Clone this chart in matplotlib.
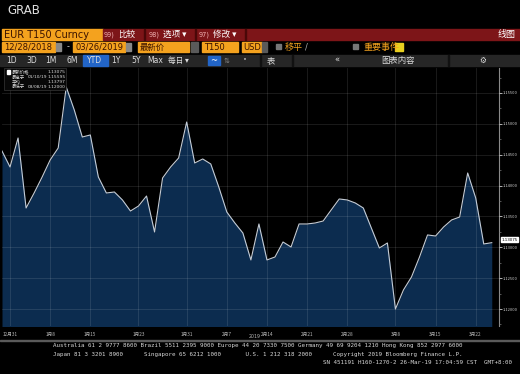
import matplotlib.pyplot as plt
from matplotlib.patches import Rectangle
from matplotlib.ticker import MultipleLocator, FormatStrFormatter

plt.rcParams['font.family'] = ['Noto Sans CJK SC', 'DejaVu Sans']

# EUR T150 daily closes, 12/28/2018 -> 03/26/2019
values = [1.14560, 1.14301, 1.14771, 1.13637, 1.13880, 1.14139, 1.14415, 1.14609,
          1.15597, 1.15225, 1.14787, 1.14820, 1.14139, 1.13880, 1.13896, 1.13767,
          1.13588, 1.13669, 1.13831, 1.13248, 1.14123, 1.14301, 1.14447, 1.15030,
          1.14366, 1.14431, 1.14350, 1.13977, 1.13572, 1.13394, 1.13232, 1.12795,
          1.13378, 1.12795, 1.12843, 1.13086, 1.13005, 1.13378, 1.13378, 1.13394,
          1.13426, 1.13605, 1.13783, 1.13767, 1.13718, 1.13637, 1.13313, 1.12989,
          1.13070, 1.12000, 1.12309, 1.12519, 1.12843, 1.13200, 1.13183, 1.13329,
          1.13443, 1.13491, 1.14204, 1.13799, 1.13054, 1.13075]
tick_idx = [1, 6, 11, 17, 23, 28, 33, 38, 43, 49, 54, 59]
tick_labels = ['12月31', '1月8', '1月15', '1月23', '1月31', '2月7',
               '2月14', '2月21', '2月28', '3月8', '3月15', '3月22']
legend_rows = [('最新价格', '', '1.13075'), ('最高于', '01/10/19', '1.15595'),
               ('平均', '', '1.13797'), ('最低于', '03/08/19', '1.12000')]
menu_x = [104, 149, 199]
menu_num = ['99', '98', '97']
menu_lab = ['比较', '选项 ▾', '修改 ▾']

W, H = 520, 374
fig = plt.figure(figsize=(W / 100, H / 100), dpi=100, facecolor='black')

ORANGE = '#f4a21e'
DARKRED = '#7d1518'
INK = '#3a1200'


def box(x, y, w, h, color, **kw):
    fig.patches.append(Rectangle((x / W, 1 - (y + h) / H), w / W, h / H,
                                 transform=fig.transFigure, color=color, **kw))


def txt(x, y, s, **kw):
    kw.setdefault('va', 'center')
    kw.setdefault('color', '#e8e8e8')
    kw.setdefault('fontsize', 6)
    return fig.text(x / W, 1 - y / H, s, **kw)


# header
txt(7, 10, 'GRAB', fontsize=8.5, family='DejaVu Sans', color='#e0e0e0')

# row 1: security + red menu bar
box(2, 29, 101, 11, ORANGE)
txt(4, 34.5, 'EUR T150 Curncy', fontsize=7, color=INK, family='DejaVu Sans')
box(103, 29, 417, 11, DARKRED)
for x0, num, lab in zip(menu_x, menu_num, menu_lab):
    txt(x0, 34.5, num + ')', fontsize=4.8, color='#f0b0b0', family='DejaVu Sans')
    txt(x0 + 14, 34.5, lab, fontsize=6.2, color='white')
for xs in [144, 195, 245]:
    box(xs, 29, 1, 11, '#4a0808')
txt(516, 34.5, '线图', fontsize=6.5, color='white', ha='right')

# row 2: date range / field boxes
box(2, 42, 53, 10, ORANGE)
txt(4, 47, '12/28/2018', fontsize=6, color=INK, family='DejaVu Sans')
box(56, 43, 5, 8, '#888888')
txt(67, 47, '-', fontsize=6, color='#cccccc')
box(73, 42, 52, 10, ORANGE)
txt(75, 47, '03/26/2019', fontsize=6, color=INK, family='DejaVu Sans')
box(126, 43, 5, 8, '#888888')
box(138, 42, 51, 10, ORANGE)
txt(140, 47, '最新价', fontsize=6, color=INK)
box(191, 42, 7, 10, '#5a5a5a')
box(202, 42, 36, 10, ORANGE)
txt(204, 47, 'T150', fontsize=6, color=INK, family='DejaVu Sans')
box(242, 42, 20, 10, ORANGE)
txt(243, 47, 'USD', fontsize=6, color=INK, family='DejaVu Sans')
box(262, 42, 5, 10, '#5a5a5a')
box(276, 44, 5, 5, '#777777')
txt(285, 47, '移平', fontsize=6.5, color=ORANGE)
txt(305, 47, '/', fontsize=6, color='#aaaaaa', family='DejaVu Sans')
box(353, 44, 5, 5, '#777777')
txt(363, 47, '重要事件', fontsize=6.5, color=ORANGE)
box(395, 43, 8, 8, '#e8d020')

# row 3: toolbar
box(0, 55, 520, 11, '#262626')
box(83, 55, 25, 11, '#2265c8')
for x0, lab in [(12, '1D'), (32, '3D'), (51, '1M'), (72, '6M'), (95, 'YTD'),
                (116, '1Y'), (136, '5Y'), (155, 'Max')]:
    txt(x0, 60.5, lab, fontsize=5.5, color='#dddddd', ha='center', family='DejaVu Sans')
txt(178, 60.5, '每日 ▾', fontsize=5.5, color='#dddddd', ha='center')
box(208, 56, 12, 9, '#2265c8')
txt(214, 60.5, '~', fontsize=6, color='white', ha='center', family='DejaVu Sans')
txt(227, 60.5, '⇅', fontsize=5, color='#888888', ha='center', family='DejaVu Sans')
txt(245, 60.5, '•', fontsize=5, color='#aaaaaa', ha='center', family='DejaVu Sans')
txt(271, 60.5, '表', fontsize=6, color='#dddddd', ha='center')
txt(337, 60.5, '«', fontsize=6, color='#dddddd', ha='center', family='DejaVu Sans')
txt(398, 60.5, '图表内容', fontsize=6, color='#dddddd', ha='center')
txt(483, 60.5, '⚙', fontsize=5.5, color='#dddddd', ha='center', family='DejaVu Sans')
for xs in [260, 292, 448]:
    box(xs, 55, 1, 11, '#111111')

# main chart
ax = fig.add_axes([2 / W, 1 - 326 / H, 497 / W, 258 / H])
ax.set_facecolor('black')
x = list(range(len(values)))
ax.fill_between(x, values, 1.10, color='#0c2c4f', zorder=1, linewidth=0)
ax.plot(x, values, color='#c4ccd6', linewidth=0.8, zorder=3)
ax.set_xlim(0, 61.9)
ax.set_ylim(1.11725, 1.15905)
ax.yaxis.set_major_locator(MultipleLocator(0.005))
ax.yaxis.set_minor_locator(MultipleLocator(0.0025))
ax.yaxis.set_major_formatter(FormatStrFormatter('%.5f'))
ax.yaxis.tick_right()
ax.set_xticks(tick_idx)
ax.set_xticklabels(tick_labels)
ax.grid(True, which='major', color='white', alpha=0.12, linewidth=0.6, zorder=2)
ax.set_axisbelow(False)
for s in ['top', 'left', 'bottom']:
    ax.spines[s].set_visible(False)
ax.spines['right'].set_color('#8a8a8a')
ax.spines['right'].set_linewidth(0.8)
ax.tick_params(axis='y', which='major', labelsize=2.9, colors='#cfcfcf',
               length=2, width=0.6, pad=0.8)
ax.tick_params(axis='y', which='minor', length=1.5, width=0.5, colors='#777777')
ax.tick_params(axis='x', labelsize=3.4, colors='#b8b8b8', length=0, pad=4)
ax.axhline(1.11725, color='#666666', linewidth=0.6, linestyle=(0, (1, 2)), zorder=4)

# last value tag
ax.annotate('1.13075', xy=(1.0, values[-1]), xycoords=('axes fraction', 'data'),
            xytext=(1.6, 2), textcoords='offset points', fontsize=2.9, va='center',
            color='black', family='DejaVu Sans', annotation_clip=False,
            bbox=dict(boxstyle='square,pad=0.12', fc='white', ec='white'))

# legend panel
box(4, 68, 62, 22, '#080808', ec='#444444', lw=0.4)
box(7, 70.5, 3, 3, 'white')
for i, (lab, dt, val) in enumerate(legend_rows):
    yy = 72 + i * 5
    txt(12, yy, lab, fontsize=3.2, color='#d8d8d8')
    if dt:
        txt(28, yy, dt, fontsize=3.2, color='#d8d8d8', family='DejaVu Sans')
    txt(48, yy, val, fontsize=3.2, color='#d8d8d8', family='DejaVu Sans')

# bottom frame and year label
txt(255, 337, '2019', fontsize=3.4, color='#b8b8b8', ha='center', family='DejaVu Sans')
box(0, 340, 520, 0.6, '#5a5a5a')

# footer
mono = dict(family='DejaVu Sans Mono', fontsize=4.2, color='#d6d6d6')
txt(53, 346, 'Australia 61 2 9777 8600 Brazil 5511 2395 9000 Europe 44 20 7330 7500 '
    'Germany 49 69 9204 1210 Hong Kong 852 2977 6000', **mono)
txt(53, 354.5, 'Japan 81 3 3201 8900      Singapore 65 6212 1000       '
    'U.S. 1 212 318 2000      Copyright 2019 Bloomberg Finance L.P.', **mono)
txt(323, 363, 'SN 451191 H160-1270-2 26-Mar-19 17:04:59 CST  GMT+8:00', **mono)

fig.savefig('out.png', dpi=100, facecolor='black')
